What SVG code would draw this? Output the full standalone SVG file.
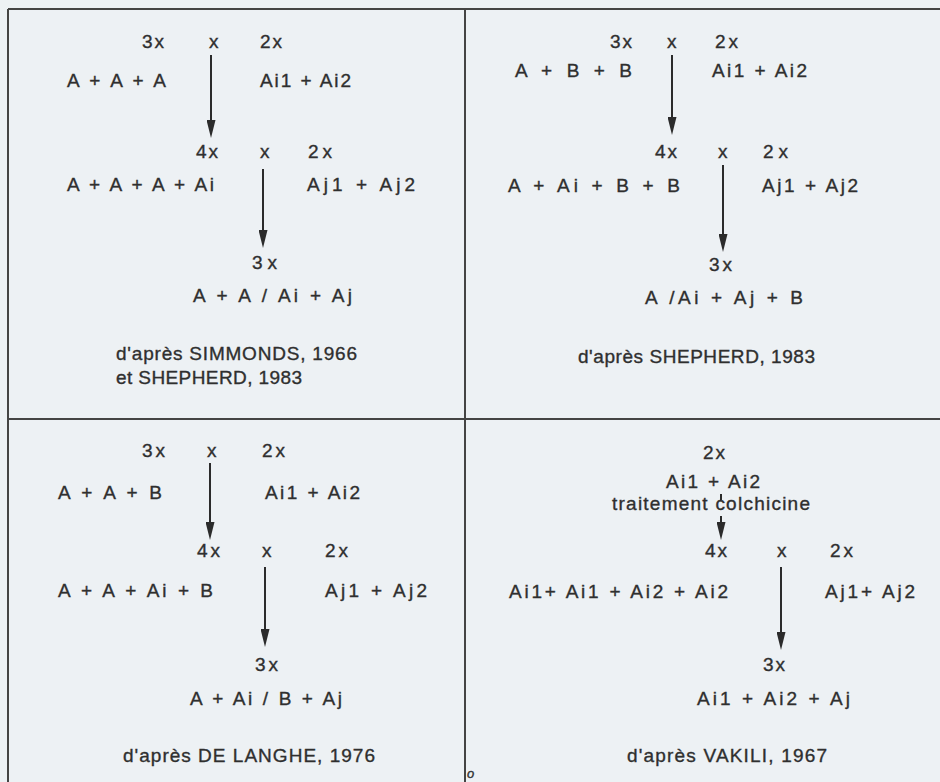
<svg xmlns="http://www.w3.org/2000/svg" width="940" height="782" viewBox="0 0 940 782">
<defs>
<style>
text{font-family:"Liberation Sans",Arial,sans-serif;font-size:19px;fill:#2f2f2f;stroke:#2f2f2f;stroke-width:0.35}
.frame{stroke:#444;stroke-width:2;fill:none}
.conn{stroke:#2b2b2b;stroke-width:2;fill:none}
.arr{marker-end:url(#ah)}
</style>
<marker id="ah" markerUnits="userSpaceOnUse" markerWidth="18" markerHeight="9" refX="8" refY="4.5" orient="auto">
<path d="M0,0 L18,4.5 L0,9 z" fill="#2b2b2b"/>
</marker>
</defs>
<rect width="940" height="782" fill="#edf1f4"/>
<g id="frame" class="frame">
<line x1="8" y1="9" x2="940" y2="9"/>
<line x1="8" y1="9" x2="8" y2="782"/>
<line x1="465" y1="9" x2="465" y2="782"/>
<line x1="8" y1="419" x2="940" y2="419"/>
</g>
<g id="connectors" class="conn">
<line class="arr" x1="211" y1="55" x2="211" y2="128"/>
<line class="arr" x1="263" y1="169" x2="263" y2="238"/>
<line class="arr" x1="672" y1="55" x2="672" y2="125"/>
<line class="arr" x1="723" y1="165" x2="723" y2="242"/>
<line class="arr" x1="210" y1="463" x2="210" y2="530"/>
<line class="arr" x1="265" y1="567" x2="265" y2="637"/>
<line x1="721" y1="494" x2="721" y2="500"/>
<line class="arr" x1="721" y1="516" x2="721" y2="530"/>
<line class="arr" x1="781" y1="567" x2="781" y2="640"/>
</g>
<g id="q1">
<g id="q1-p1"><text x="142" y="48" textLength="22">3x</text><text x="67" y="87" textLength="99">A + A + A</text></g>
<g id="q1-x1"><text x="209" y="48">x</text></g>
<g id="q1-p2"><text x="260" y="48" textLength="22">2x</text><text x="260" y="87" textLength="91">Ai1 + Ai2</text></g>
<g id="q1-p3"><text x="196" y="158" textLength="22">4x</text><text x="67" y="191" textLength="147">A + A + A + Ai</text></g>
<g id="q1-x2"><text x="260" y="158">x</text></g>
<g id="q1-p4"><text x="308" y="158" textLength="24">2x</text><text x="307" y="191" textLength="108">Aj1 + Aj2</text></g>
<g id="q1-r"><text x="252" y="269" textLength="25">3x</text><text x="193" y="302" textLength="159">A + A / Ai + Aj</text></g>
<g id="q1-src"><text x="116" y="360" textLength="241">d'après SIMMONDS, 1966</text><text x="116" y="384" textLength="186">et SHEPHERD, 1983</text></g>
</g>
<g id="q2">
<g id="q2-p1"><text x="610" y="48" textLength="22">3x</text><text x="515" y="77" textLength="117">A + B + B</text></g>
<g id="q2-x1"><text x="667" y="48">x</text></g>
<g id="q2-p2"><text x="715" y="48" textLength="23">2x</text><text x="712" y="77" textLength="95">Ai1 + Ai2</text></g>
<g id="q2-p3"><text x="655" y="158" textLength="22">4x</text><text x="508" y="192" textLength="172">A + Ai + B + B</text></g>
<g id="q2-x2"><text x="718" y="158">x</text></g>
<g id="q2-p4"><text x="763" y="158" textLength="25">2x</text><text x="762" y="192" textLength="96">Aj1 + Aj2</text></g>
<g id="q2-r"><text x="709" y="271" textLength="23">3x</text><text x="645" y="304" textLength="158">A /Ai + Aj + B</text></g>
<g id="q2-src"><text x="578" y="363" textLength="237">d'après SHEPHERD, 1983</text></g>
</g>
<g id="q3">
<g id="q3-p1"><text x="142" y="457" textLength="23">3x</text><text x="58" y="499" textLength="104">A + A + B</text></g>
<g id="q3-x1"><text x="207" y="457">x</text></g>
<g id="q3-p2"><text x="262" y="457" textLength="23">2x</text><text x="265" y="499" textLength="95">Ai1 + Ai2</text></g>
<g id="q3-p3"><text x="197" y="557" textLength="23">4x</text><text x="58" y="597" textLength="155">A + A + Ai + B</text></g>
<g id="q3-x2"><text x="262" y="557">x</text></g>
<g id="q3-p4"><text x="325" y="557" textLength="23">2x</text><text x="325" y="597" textLength="102">Aj1 + Aj2</text></g>
<g id="q3-r"><text x="255" y="671" textLength="23">3x</text><text x="190" y="705" textLength="152">A + Ai / B + Aj</text></g>
<g id="q3-src"><text x="123" y="762" textLength="252">d'après DE LANGHE, 1976</text></g>
</g>
<g id="q4">
<g id="q4-p0"><text x="703" y="459" textLength="22">2x</text><text x="666" y="488" textLength="94">Ai1 + Ai2</text></g>
<g id="q4-t"><text x="612" y="510" textLength="198">traitement colchicine</text></g>
<g id="q4-p1"><text x="705" y="557" textLength="22">4x</text><text x="509" y="598" textLength="219">Ai1+ Ai1 + Ai2 + Ai2</text></g>
<g id="q4-x1"><text x="777" y="557">x</text></g>
<g id="q4-p2"><text x="830" y="557" textLength="23">2x</text><text x="825" y="598" textLength="90">Aj1+ Aj2</text></g>
<g id="q4-r"><text x="763" y="671" textLength="22">3x</text><text x="697" y="705" textLength="153">Ai1 + Ai2 + Aj</text></g>
<g id="q4-src"><text x="627" y="762" textLength="200">d'après VAKILI, 1967</text></g>
</g>
<text x="467" y="778" style="font-style:italic;font-size:13px">o</text>
</svg>
